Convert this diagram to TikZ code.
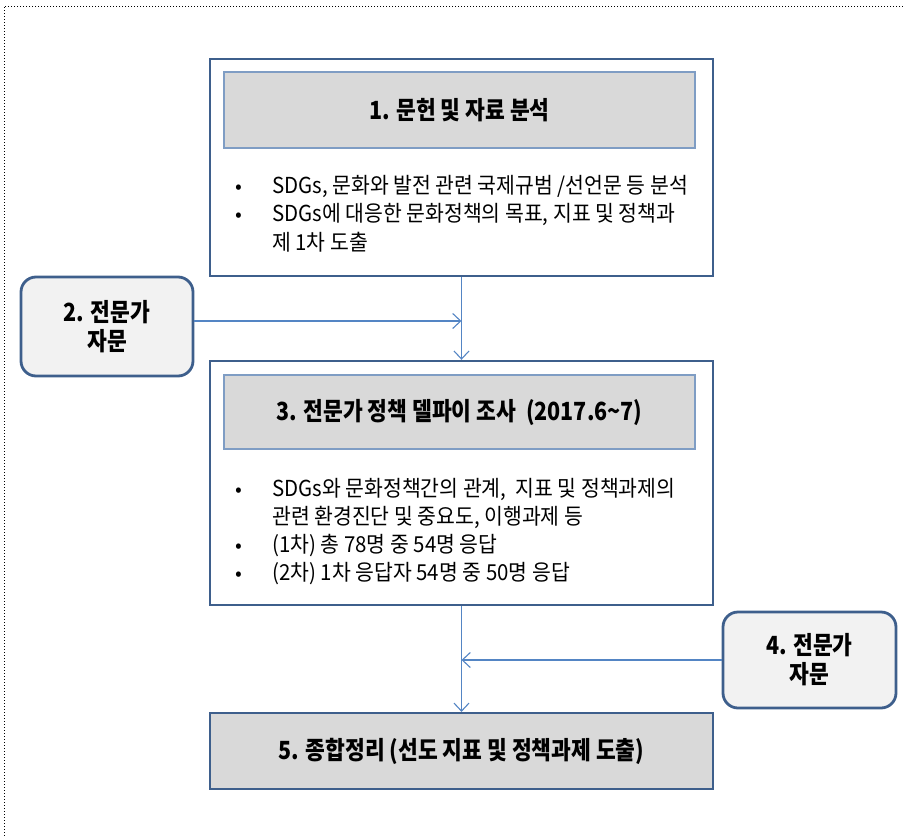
\documentclass[tikz,border=0pt]{standalone}
\usepackage{fontspec}
\setmainfont{Noto Sans CJK KR}
\newfontfamily\krtitle[FakeStretch=0.86]{Noto Sans CJK KR}
\newfontfamily\krbody[FakeStretch=0.93]{Noto Sans CJK KR}
\usetikzlibrary{arrows.meta}
\definecolor{boxblue}{HTML}{3E5F8C}
\definecolor{linkblue}{HTML}{5485C4}
\definecolor{titleline}{HTML}{7F9DC4}
\definecolor{titlegray}{HTML}{D9D9D9}
\definecolor{softgray}{HTML}{F2F2F2}
\tikzset{
  outerbox/.style={draw=boxblue, line width=2.4pt, fill=white, inner sep=0pt},
  titlebox/.style={draw=titleline, line width=1.2pt, fill=titlegray, inner sep=0pt,
    font=\krtitle\fontsize{25}{29}\selectfont\bfseries},
  advbox/.style={draw=boxblue, line width=2.8pt, fill=softgray, rounded corners=15pt,
    inner sep=0pt, align=center, font=\krtitle\fontsize{25}{29}\selectfont\bfseries},
  bodytext/.style={anchor=base west, inner sep=0pt, font=\krbody\fontsize{22}{26}\selectfont},
  bulletmark/.style={anchor=base, inner sep=0pt, font=\fontsize{20}{23}\selectfont},
  link/.style={draw=linkblue, line width=1.1pt, -{Straight Barb[length=8pt,width=15pt]}},
  frameline/.style={draw=black, line width=1pt, dotted}
}
\begin{document}
\begin{tikzpicture}[x=1pt,y=-1pt]
\useasboundingbox (0,0) rectangle (903,836);
\draw[frameline] (903,6) -- (4,6) -- (4,836);

% Box 1
\node[outerbox, minimum width=503pt, minimum height=217pt] (b1) at (461.5,167.5) {};
\node[titlebox, minimum width=471pt, minimum height=76pt] (t1) at (459.5,110) {1. 문헌 및 자료 분석};
\node[bulletmark] (p11) at (239,193) {•};
\node[bodytext] (l11) at (272,193) {SDGs, 문화와 발전 관련 국제규범 /선언문 등 분석};
\node[bulletmark] (p12) at (239,221.5) {•};
\node[bodytext] (l12) at (272,221.5) {SDGs에 대응한 문화정책의 목표, 지표 및 정책과};
\node[bodytext] (l13) at (272,250) {제 1차 도출};

% Box 2
\node[advbox, minimum width=172pt, minimum height=99pt] (b2) at (107,326.5) {2. 전문가\\자문};

% Box 3
\node[outerbox, minimum width=503pt, minimum height=244pt] (b3) at (461.5,483) {};
\node[titlebox, minimum width=471pt, minimum height=74pt] (t3) at (459.5,412) {3. 전문가 정책 델파이 조사\ \ (2017.6\textasciitilde7)};
\node[bulletmark] (p31) at (239,496) {•};
\node[bodytext] (l31) at (272,496) {SDGs와 문화정책간의 관계,\ \ 지표 및 정책과제의};
\node[bodytext] (l32) at (272,524) {관련 환경진단 및 중요도, 이행과제 등};
\node[bulletmark] (p33) at (239,552) {•};
\node[bodytext] (l33) at (272,552) {(1차) 총 78명 중 54명 응답};
\node[bulletmark] (p34) at (239,580) {•};
\node[bodytext] (l34) at (272,580) {(2차) 1차 응답자 54명 중 50명 응답};

% Box 4
\node[advbox, minimum width=173pt, minimum height=96pt] (b4) at (809.5,660) {4. 전문가\\자문};

% Box 5
\node[titlebox, draw=boxblue, line width=2.2pt, minimum width=503pt, minimum height=76pt] (b5) at (461.5,751) {5. 종합정리 (선도 지표 및 정책과제 도출)};

% Connectors
\draw[link] (b1.south) -- (b3.north);
\draw[link] ([yshift=5.5pt]b2.east) -- ([yshift=5.5pt]b2.east -| b1.south);
\draw[link] (b3.south) -- (b5.north);
\draw[link] (b4.west) -- (b4.west -| b3.south);
\end{tikzpicture}
\end{document}
